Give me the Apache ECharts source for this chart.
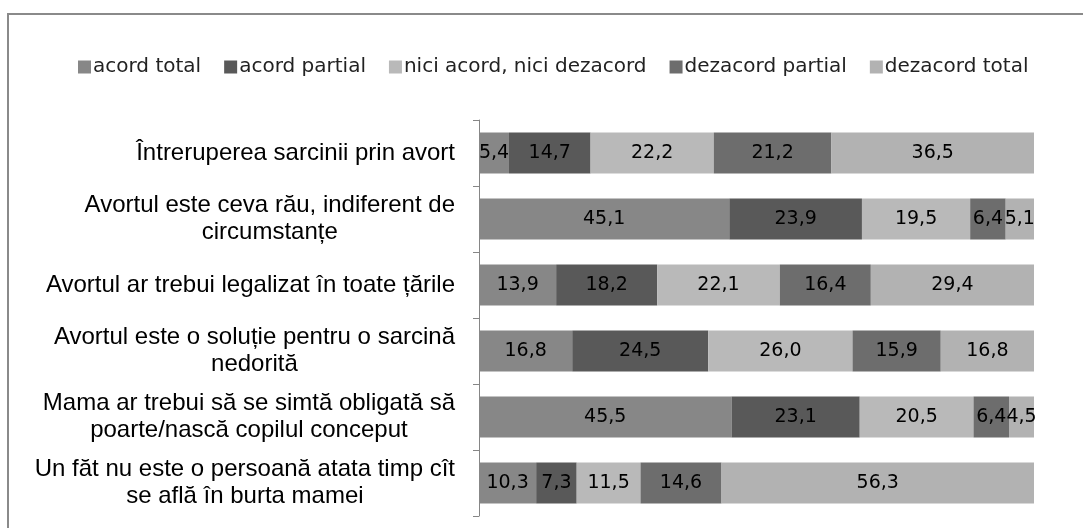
<!DOCTYPE html>
<html>
<head>
<meta charset="utf-8">
<script src="https://cdn.jsdelivr.net/npm/echarts@6/dist/echarts.min.js"></script>
<style>html,body{margin:0;padding:0;background:#fff;}#c{width:1083px;height:528px;}</style>
</head>
<body>
<div id="c"></div>
<script>
const categories = [
  "Întreruperea sarcinii prin avort",
  "Avortul este ceva rău, indiferent de\ncircumstanțe",
  "Avortul ar trebui legalizat în toate țările",
  "Avortul este o soluție pentru o sarcină\nnedorită",
  "Mama ar trebui să se simtă obligată să\npoarte/nască copilul conceput",
  "Un făt nu este o persoană atata timp cît\nse află în burta mamei"
];
const seriesNames = ["acord total", "acord partial", "nici acord, nici dezacord", "dezacord partial", "dezacord total"];
const acordTotal    = [5.4, 45.1, 13.9, 16.8, 45.5, 10.3];
const acordPartial  = [14.7, 23.9, 18.2, 24.5, 23.1, 7.3];
const niciAcord     = [22.2, 19.5, 22.1, 26.0, 20.5, 11.5];
const dezacordPart  = [21.2, 6.4, 16.4, 15.9, 6.4, 14.6];
const dezacordTotal = [36.5, 5.1, 29.4, 16.8, 4.5, 56.3];
const colors = ["#878787", "#595959", "#b9b9b9", "#6d6d6d", "#b2b2b2"];

const valuesList = [acordTotal, acordPartial, niciAcord, dezacordPart, dezacordTotal];

const chart = echarts.init(document.getElementById('c'), null, {renderer: 'canvas'});
chart.setOption({
  animation: false,
  backgroundColor: '#ffffff',
  graphic: [{
    type: 'rect', silent: true, z: -1,
    shape: {x: 8, y: 14, width: 1200, height: 700},
    style: {fill: 'none', stroke: '#8a8a8a', lineWidth: 2}
  }],
  legend: {
    left: 73, top: 52,
    itemWidth: 13, itemHeight: 13, itemGap: 23,
    icon: 'rect',
    textStyle: {fontFamily: 'DejaVu Sans', fontSize: 20, color: '#222', padding: [0, 0, 0, -3]},
    data: seriesNames
  },
  grid: {left: 479, right: 49, top: 120, bottom: 12, containLabel: false},
  xAxis: {type: 'value', min: 0, max: 100, show: false},
  yAxis: {
    type: 'category', inverse: true, data: categories,
    axisLine: {show: true, lineStyle: {color: '#868686', width: 1}},
    axisTick: {show: true, length: 6, lineStyle: {color: '#868686'}},
    splitLine: {show: false},
    axisLabel: {
      margin: 24, color: '#000',
      fontFamily: 'Liberation Sans', fontSize: 24, lineHeight: 27,
      formatter: v => v.split('\n').map(l => '{c|' + l + '}').join('\n'),
      rich: {c: {align: 'center', fontFamily: 'Liberation Sans', fontSize: 24, lineHeight: 27, color: '#000'}}
    }
  },
  series: seriesNames.map((name, i) => ({
    name, type: 'bar', stack: 'all',
    data: valuesList[i],
    barCategoryGap: '38%',
    itemStyle: {color: colors[i]},
    label: {
      show: true, position: 'inside', color: '#000',
      fontFamily: 'DejaVu Sans', fontSize: 19,
      formatter: p => p.value.toFixed(1).replace('.', ',')
    }
  }))
});
</script>
</body>
</html>
